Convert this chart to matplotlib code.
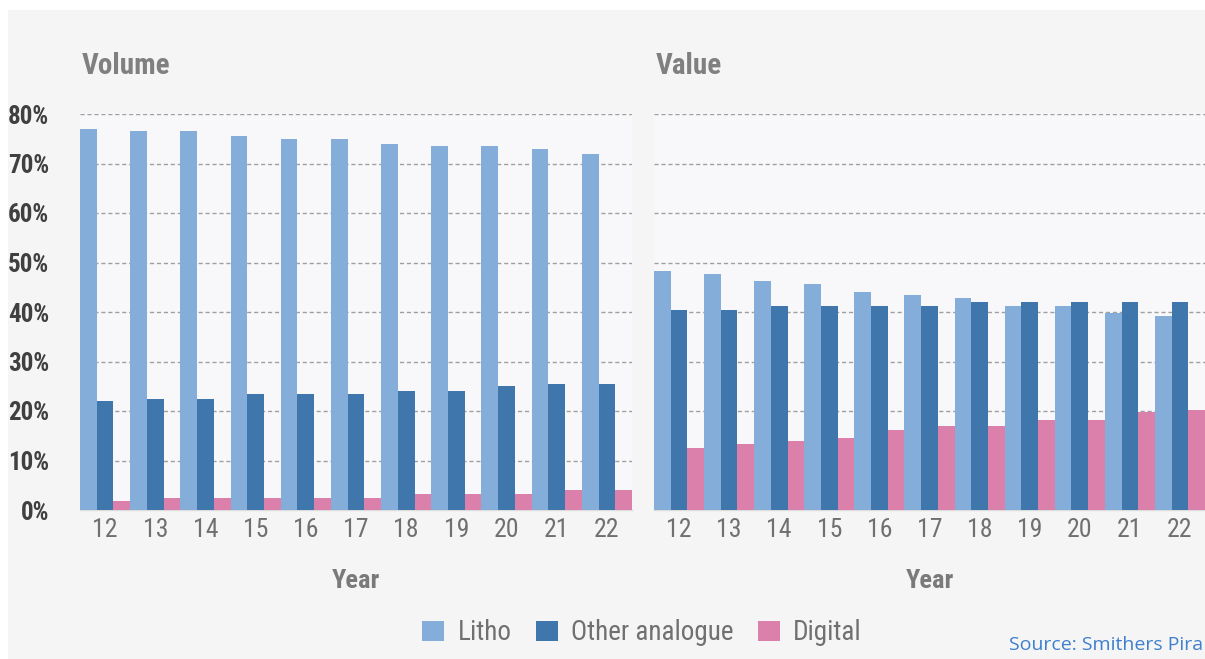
import matplotlib
matplotlib.use("Agg")
import matplotlib.pyplot as plt
from matplotlib.patches import Patch
from matplotlib import font_manager
import numpy as np

years = ["12", "13", "14", "15", "16", "17", "18", "19", "20", "21", "22"]
series_names = ["Litho", "Other analogue", "Digital"]
colors = ["#84aed9", "#3f76ab", "#db7fab"]

volume_litho = [77, 76.5, 76.5, 75.5, 75, 75, 74, 73.5, 73.5, 73, 72]
volume_other = [22, 22.5, 22.5, 23.5, 23.5, 23.5, 24, 24, 25, 25.5, 25.5]
volume_digital = [1.8, 2.5, 2.5, 2.5, 2.5, 2.5, 3.3, 3.3, 3.3, 4, 4]

value_litho = [48.3, 47.7, 46.2, 45.6, 44.1, 43.5, 42.8, 41.3, 41.3, 39.8, 39.2]
value_other = [40.4, 40.4, 41.3, 41.3, 41.3, 41.3, 42, 42, 42, 42, 42]
value_digital = [12.5, 13.3, 14, 14.6, 16.1, 16.9, 16.9, 18.2, 18.2, 19.8, 20.3]

yticks = [0, 10, 20, 30, 40, 50, 60, 70, 80]
ytick_labels = ["0%", "10%", "20%", "30%", "40%", "50%", "60%", "70%", "80%"]

installed = {f.name for f in font_manager.fontManager.ttflist}
cands = ["Liberation Sans Narrow", "DejaVu Sans Condensed", "Roboto Condensed",
         "Open Sans Condensed", "Noto Sans Condensed", "Roboto"]
FONT = [c for c in cands if c in installed][:1] + ["DejaVu Sans"]
plt.rcParams["font.family"] = FONT
plt.rcParams["font.stretch"] = "condensed"

W, H = 1205, 659
fig = plt.figure(figsize=(W / 100, H / 100), dpi=100, facecolor="white")
bg = fig.add_axes([8 / W, 0, 1 - 8 / W, 1 - 10 / H], zorder=-10)
bg.set_facecolor("#f5f5f5")
bg.set_xticks([]); bg.set_yticks([])
for s in bg.spines.values():
    s.set_visible(False)

bottom = 1 - 510 / H
height = 396 / H
axL = fig.add_axes([80 / W, bottom, 552 / W, height])
axR = fig.add_axes([654 / W, bottom, 551 / W, height])

x = np.arange(len(years))
bw = 1 / 3

for ax, data, title, tx in [
    (axL, [volume_litho, volume_other, volume_digital], "Volume", 82),
    (axR, [value_litho, value_other, value_digital], "Value", 656),
]:
    ax.set_facecolor("#f8f8fa")
    for i, (vals, c) in enumerate(zip(data, colors)):
        ax.bar(x + (i - 1) * bw, vals, width=bw, color=c, edgecolor="none", zorder=3)
    ax.set_xlim(-0.5, 10.5)
    ax.set_ylim(0, 80)
    ax.set_yticks(yticks)
    ax.yaxis.grid(True, linestyle=(0, (3, 2)), color="#a0a0a0", linewidth=1.0, zorder=1)
    ax.set_axisbelow(True)
    for s in ["top", "right", "left"]:
        ax.spines[s].set_visible(False)
    ax.spines["bottom"].set_color("#dcdcdc")
    ax.spines["bottom"].set_linewidth(1.0)
    ax.set_xticks(x)
    ax.set_xticklabels(years, fontsize=18.5, color="#707070")
    ax.tick_params(axis="both", length=0)
    ax.tick_params(axis="x", pad=6)
    ax.set_xlabel("Year", fontsize=19, fontweight="bold", color="#7a7a7a", labelpad=19)
    fig.text(tx / W, 1 - 66 / H, title, fontsize=21, fontweight="bold", color="#808080",
             ha="left", va="center")

axL.set_yticklabels(ytick_labels, fontsize=18, fontweight="bold", color="#404040")
axL.tick_params(axis="y", pad=22)
axR.set_yticklabels([])

handles = [Patch(facecolor=c, edgecolor="none") for c in colors]
leg = fig.legend(handles, series_names, loc="center", bbox_to_anchor=(642 / W, 1 - 633 / H),
                 ncol=3, frameon=False, fontsize=19.5, handlelength=0.8, handleheight=0.8,
                 handletextpad=0.5, columnspacing=0.9)
for t in leg.get_texts():
    t.set_color("#707070")

fig.text(1203 / W, 1 - 645 / H, "Source: Smithers Pira", fontsize=14, color="#3f7fcf",
         ha="right", va="center", family=["Open Sans", "DejaVu Sans"], stretch="normal")

fig.savefig("out.png", dpi=100, facecolor=fig.get_facecolor())
